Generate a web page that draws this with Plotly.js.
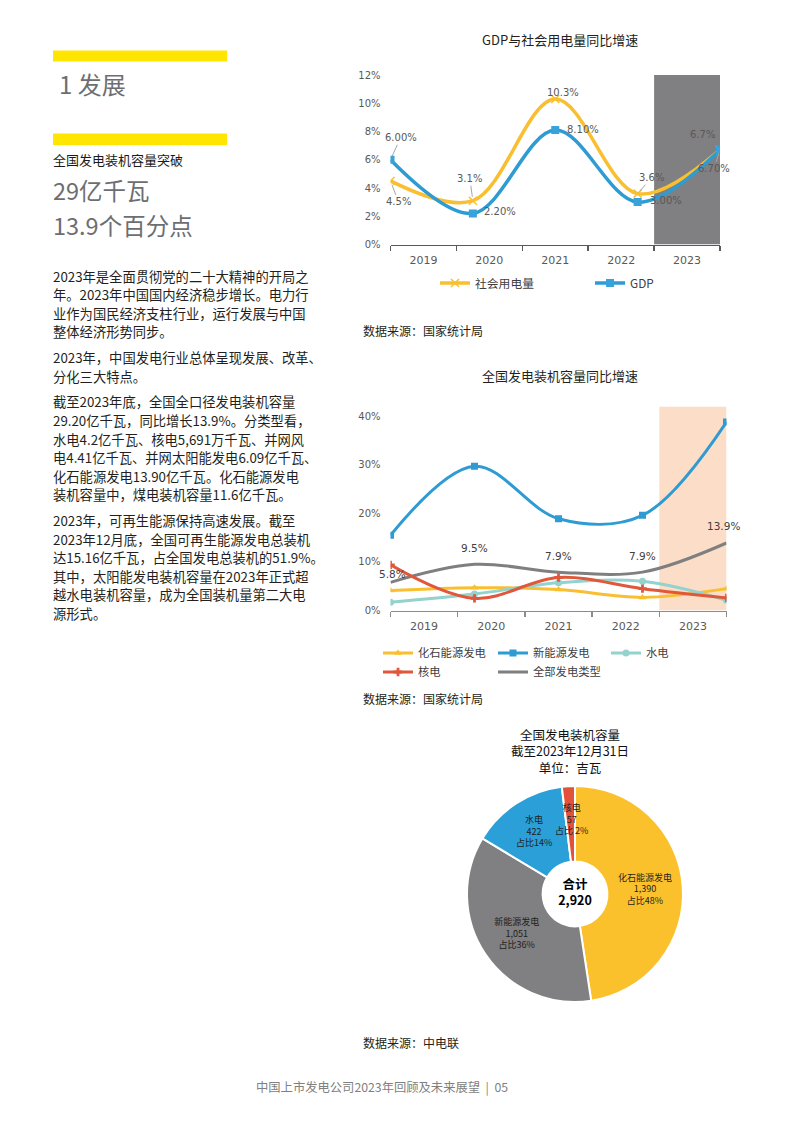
<!DOCTYPE html>
<html><head><meta charset="utf-8">
<script src="https://cdn.plot.ly/plotly-3.0.1.min.js"></script>
<style>html,body{margin:0;padding:0;background:#fff}#chart{width:793px;height:1122px}</style>
</head><body><div id="chart"></div>
<script>
// ---------- data ----------
const years = ['2019', '2020', '2021', '2022', '2023'];
// GDP与社会用电量同比增速 (%)
const gdpGrowth = [6.0, 2.2, 8.1, 3.0, 6.7];
const powerUseGrowth = [4.5, 3.1, 10.3, 3.6, 6.7];
// 全国发电装机容量同比增速 (%)
const fossilGrowth = [4.1, 4.7, 4.3, 2.7, 4.5];
const newEnergyGrowth = [15.5, 29.7, 18.9, 19.6, 38.8];
const hydroGrowth = [1.7, 3.4, 5.7, 6.0, 2.1];
const nuclearGrowth = [9.4, 2.5, 6.8, 4.5, 2.6];
const totalGrowth = [5.8, 9.5, 7.9, 7.9, 13.9];
// 全国发电装机容量 (吉瓦)
const pieLabels = ['化石能源发电', '新能源发电', '水电', '核电'];
const pieValues = [1390, 1051, 422, 57];
const y1Ticks = [0, 2, 4, 6, 8, 10, 12];
const y2Ticks = [0, 10, 20, 30, 40];

// ---------- helpers ----------
const W = 793, H = 1122;
const X = p => p / W;
const Y = p => 1 - p / H;
const CJK = 'Noto Sans CJK SC, sans-serif';
const NUM = 'DejaVu Sans, sans-serif';
const idx = years.map((_, i) => i);
const nBins = years.length;
const span = nBins - 1;
const binW = span / nBins;
const binCenters = years.map((_, i) => (i + 0.5) * binW);
const pieTotal = pieValues.reduce((a, b) => a + b, 0);

const C = {
  yellow: '#F9BF30', blue: '#2E9BD2', teal: '#93D2CD', red: '#E0573A', gray: '#7F7F7F'
};

// ---------- traces ----------
const traces = [
  {x: idx, y: powerUseGrowth, name: '社会用电量', xaxis: 'x', yaxis: 'y', mode: 'lines+markers',
   line: {color: C.yellow, width: 3.5, shape: 'spline', smoothing: 1},
   marker: {symbol: 'x-thin', size: 8, color: C.yellow, line: {color: C.yellow, width: 1.5}},
   legend: 'legend', hoverinfo: 'skip'},
  {x: idx, y: gdpGrowth, name: 'GDP', xaxis: 'x', yaxis: 'y', mode: 'lines+markers',
   line: {color: C.blue, width: 3.5, shape: 'spline', smoothing: 1},
   marker: {symbol: 'square', size: 8, color: '#38A2DA'},
   legend: 'legend2', hoverinfo: 'skip'},

  {x: idx, y: totalGrowth, name: '全部发电类型', xaxis: 'x2', yaxis: 'y2', mode: 'lines',
   line: {color: C.gray, width: 3, shape: 'spline', smoothing: 1},
   legend: 'legend7', hoverinfo: 'skip'},
  {x: idx, y: fossilGrowth, name: '化石能源发电', xaxis: 'x2', yaxis: 'y2', mode: 'lines+markers',
   line: {color: C.yellow, width: 3, shape: 'spline', smoothing: 1},
   marker: {symbol: 'triangle-up', size: 7, color: C.yellow},
   legend: 'legend3', hoverinfo: 'skip'},
  {x: idx, y: newEnergyGrowth, name: '新能源发电', xaxis: 'x2', yaxis: 'y2', mode: 'lines+markers',
   line: {color: C.blue, width: 3, shape: 'spline', smoothing: 1},
   marker: {symbol: 'square', size: 7, color: C.blue},
   legend: 'legend4', hoverinfo: 'skip'},
  {x: idx, y: hydroGrowth, name: '水电', xaxis: 'x2', yaxis: 'y2', mode: 'lines+markers',
   line: {color: C.teal, width: 3, shape: 'spline', smoothing: 1},
   marker: {symbol: 'circle', size: 7, color: C.teal},
   legend: 'legend5', hoverinfo: 'skip'},
  {x: idx, y: nuclearGrowth, name: '核电', xaxis: 'x2', yaxis: 'y2', mode: 'lines+markers',
   line: {color: C.red, width: 3, shape: 'spline', smoothing: 1},
   marker: {symbol: 'cross', size: 7, color: C.red},
   legend: 'legend6', hoverinfo: 'skip'},

  {type: 'pie', labels: pieLabels, values: pieValues, sort: false, direction: 'clockwise', rotation: 0,
   hole: 0.3,
   domain: {x: [X(467), X(683)], y: [Y(1002), Y(786)]},
   marker: {colors: ['#FBC12D', '#807F81', '#2A9FD8', '#E2523A'], line: {color: '#ffffff', width: 2}},
   textposition: ['inside', 'inside', 'inside', 'none'], insidetextorientation: 'horizontal',
   texttemplate: '%{label}<br>%{value:,}<br>占比%{percent:.0%}',
   textfont: {family: CJK, size: 9, color: '#1E1E1E'},
   title: {text: '<b>合计<br>' + pieTotal.toLocaleString('en-US') + '</b>',
           position: 'middle center', font: {family: CJK, size: 12.5, color: '#000000'}},
   showlegend: false, hoverinfo: 'skip'}
];

// ---------- legends (one per entry, placed like the original) ----------
function leg(textStartX, rowY, size) {
  return {x: X(textStartX - 40), y: Y(rowY), xanchor: 'left', yanchor: 'middle', orientation: 'h',
          bgcolor: 'rgba(0,0,0,0)', borderwidth: 0, font: {family: CJK, size: size, color: '#404040'},
          itemclick: false, itemdoubleclick: false};
}

// ---------- annotations ----------
const ann = [];
function txt(text, x, y, size, color, opts) {
  ann.push(Object.assign({text: text, x: X(x), y: Y(y), xref: 'paper', yref: 'paper', showarrow: false,
    xanchor: 'left', yanchor: 'middle', font: {family: CJK, size: size, color: color}}, opts || {}));
}
// left column
txt('1 发展', 57, 83, 24, '#6D6E71');
txt('全国发电装机容量突破', 51, 159, 13, '#1A1A1A');
txt('29亿千瓦', 51, 190, 23.5, '#6D6E71');
txt('13.9个百分点', 51, 225, 23.5, '#6D6E71');

const paragraphs = [
  ['2023年是全面贯彻党的二十大精神的开局之',
   '年。2023年中国国内经济稳步增长。电力行',
   '业作为国民经济支柱行业，运行发展与中国',
   '整体经济形势同步。'],
  ['2023年，中国发电行业总体呈现发展、改革、',
   '分化三大特点。'],
  ['截至2023年底，全国全口径发电装机容量',
   '29.20亿千瓦，同比增长13.9%。分类型看，',
   '水电4.2亿千瓦、核电5,691万千瓦、并网风',
   '电4.41亿千瓦、并网太阳能发电6.09亿千瓦、',
   '化石能源发电13.90亿千瓦。化石能源发电',
   '装机容量中，煤电装机容量11.6亿千瓦。'],
  ['2023年，可再生能源保持高速发展。截至',
   '2023年12月底，全国可再生能源发电总装机',
   '达15.16亿千瓦，占全国发电总装机的51.9%。',
   '其中，太阳能发电装机容量在2023年正式超',
   '越水电装机容量，成为全国装机量第二大电',
   '源形式。']
];
let ly = 276;
paragraphs.forEach((p) => {
  p.forEach((line, li) => {
    txt(line, 51, ly, 13.3, '#231F20');
    if (li < p.length - 1) ly += 18.55;
  });
  ly += 18.55 + 7.3;
});

// chart titles & sources
txt('GDP与社会用电量同比增速', 560, 39, 13, '#231F20', {xanchor: 'center'});
txt('数据来源：国家统计局', 361, 330, 12, '#231F20');
txt('全国发电装机容量同比增速', 560, 375, 13, '#231F20', {xanchor: 'center'});
txt('数据来源：国家统计局', 361, 698, 12, '#231F20');
txt('全国发电装机容量<br>截至2023年12月31日<br>单位：吉瓦', 570, 751, 12.5, '#111111', {xanchor: 'center'});
txt('数据来源：中电联', 361, 1042, 12, '#231F20');
txt('中国上市发电公司2023年回顾及未来展望  |  05', 382, 1087, 12.3, '#808080', {xanchor: 'center'});
// small slice label (核电) placed inside the slice, spilling over like the original
const nucPct = Math.round(pieValues[3] / pieTotal * 100);
txt(pieLabels[3] + '<br>' + pieValues[3] + '<br>占比 ' + nucPct + '%', 571.5, 819, 9, '#1E1E1E', {xanchor: 'center'});

// chart 1 data labels
const lab1 = {family: NUM, size: 10, color: '#595959'};
function dl(xr, yr, i, v, text, o) {
  const a = {xref: xr, yref: yr, x: i, y: v, text: text, font: lab1};
  if (o.ax !== undefined) {
    Object.assign(a, {showarrow: true, ax: o.ax, ay: o.ay, arrowhead: 0, arrowwidth: 1,
                      arrowcolor: '#A6A6A6', standoff: 4});
  } else {
    Object.assign(a, {showarrow: false, xshift: o.dx || 0, yshift: o.dy || 0});
  }
  if (o.font) a.font = o.font;
  ann.push(a);
}
const gdpLab = [{ax: 10, ay: -22}, {dx: 27, dy: 2}, {dx: 28, dy: 1}, {dx: 28, dy: 2}, {ax: -6, ay: 19}];
const powLab = [{ax: 8, ay: 21}, {ax: -3, ay: -22}, {dx: 8, dy: 7}, {ax: 14, ay: -16}, {dx: -18, dy: 15}];
idx.forEach(i => {
  dl('x', 'y', i, gdpGrowth[i], gdpGrowth[i].toFixed(2) + '%', gdpLab[i]);
  dl('x', 'y', i, powerUseGrowth[i], powerUseGrowth[i].toFixed(1) + '%', powLab[i]);
});
// chart 2 data labels (全部发电类型)
const totLab = [{dx: 2, dy: 8}, {dx: 0, dy: 16}, {dx: 0, dy: 16.5}, {dx: 0, dy: 16.5}, {dx: -3, dy: 17}];
idx.forEach(i => {
  totLab[i].font = {family: NUM, size: 10.5, color: '#404040'};
  dl('x2', 'y2', i, totalGrowth[i], totalGrowth[i].toFixed(1) + '%', totLab[i]);
});

// ---------- axes ----------
function xAxis(dom, anchor, color) {
  return {domain: dom, anchor: anchor, range: [0, span], tickmode: 'array', tickvals: binCenters, ticktext: years,
          ticks: '', showline: true, linecolor: color, linewidth: 1.5, showgrid: false, zeroline: false,
          tickfont: {family: NUM, size: 11, color: '#595959'}, ticklabelstandoff: 5,
          minor: {tick0: 0, dtick: binW, ticks: 'outside', ticklen: 5, tickwidth: 1.5, tickcolor: color, showgrid: false},
          fixedrange: true};
}
function yAxis(dom, anchor, range, tv) {
  return {domain: dom, anchor: anchor, range: range, tickmode: 'array', tickvals: tv,
          ticktext: tv.map(v => v + '%'),
          showline: false, showgrid: false, zeroline: false, ticks: '',
          tickfont: {family: NUM, size: 10, color: '#595959'}, ticklabelstandoff: 9, fixedrange: true};
}

const layout = {
  width: W, height: H, margin: {l: 0, r: 0, t: 0, b: 0}, paper_bgcolor: '#ffffff', plot_bgcolor: 'rgba(0,0,0,0)',
  font: {family: CJK, color: '#231F20'},
  xaxis: xAxis([X(390.5), X(720)], 'y', '#595959'),
  yaxis: yAxis([Y(244.5), Y(75)], 'x', [0, 12], y1Ticks),
  xaxis2: xAxis([X(390.5), X(726.5)], 'y2', '#8C8C8C'),
  yaxis2: yAxis([Y(610.5), Y(406.5)], 'x2', [0, 42], y2Ticks),
  legend: leg(475, 283, 11.8),
  legend2: leg(630, 283, 11.8),
  legend3: leg(418, 653, 11.3),
  legend4: leg(533, 653, 11.3),
  legend5: leg(646, 653, 11.3),
  legend6: leg(418, 672, 11.3),
  legend7: leg(533, 672, 11.3),
  uniformtext: {mode: 'show', minsize: 9},
  shapes: [
    {type: 'rect', xref: 'paper', yref: 'paper', x0: X(53), x1: X(227), y0: Y(61.5), y1: Y(50.5),
     fillcolor: '#FFE500', line: {width: 0}},
    {type: 'rect', xref: 'paper', yref: 'paper', x0: X(53), x1: X(227), y0: Y(145), y1: Y(133.5),
     fillcolor: '#FFE500', line: {width: 0}},
    {type: 'rect', xref: 'x', yref: 'y', x0: span - binW, x1: span, y0: 0, y1: 12,
     fillcolor: '#807F81', line: {width: 0}, layer: 'below'},
    {type: 'rect', xref: 'x2', yref: 'y2', x0: span - binW, x1: span, y0: 0, y1: 42,
     fillcolor: '#FBDDC8', line: {width: 0}, layer: 'below'}
  ],
  annotations: ann,
  showlegend: true
};

Plotly.newPlot('chart', traces, layout, {displayModeBar: false, staticPlot: true});
</script></body></html>
